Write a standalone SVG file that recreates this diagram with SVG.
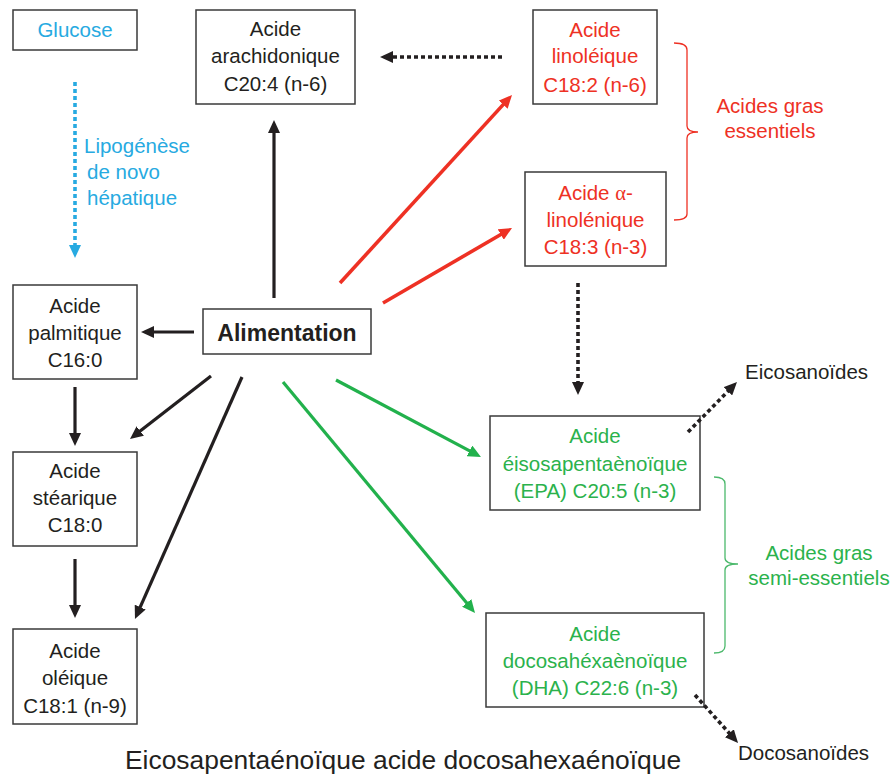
<svg xmlns="http://www.w3.org/2000/svg" width="895" height="778" viewBox="0 0 895 778">
<style>
  text { font-family: "Liberation Sans", Arial, sans-serif; font-size: 20.5px; fill: #231f20; }
  .c { text-anchor: middle; }
  .red { fill: #ee3124; }
  .green { fill: #2bb24c; }
  .blue { fill: #27aae1; }
  .box { fill: #ffffff; stroke: #3a3a3a; stroke-width: 1.5; }
  .bold { font-weight: bold; font-size: 23px; }
  .ln { fill: none; stroke-width: 3.2; stroke-linecap: butt; }
  .k { stroke: #231f20; }
  .r { stroke: #ee3124; stroke-width: 3.6; }
  .g { stroke: #22b14c; }
  .b { stroke: #27aae1; }
  .dot { stroke-width: 3.6; stroke-dasharray: 4 3; }
  .brk { fill: none; stroke-width: 1.3; }
  .greek { font-family: "Liberation Serif", "Times New Roman", serif; }
</style>
<defs>
  <marker id="ak" markerUnits="userSpaceOnUse" markerWidth="14" markerHeight="12" refX="5" refY="6" orient="auto">
    <path d="M0,0 L13,6 L0,12 z" fill="#231f20"/>
  </marker>
  <marker id="ar" markerUnits="userSpaceOnUse" markerWidth="14" markerHeight="12" refX="5" refY="6" orient="auto">
    <path d="M0,0 L13,6 L0,12 z" fill="#ee3124"/>
  </marker>
  <marker id="ag" markerUnits="userSpaceOnUse" markerWidth="14" markerHeight="12" refX="5" refY="6" orient="auto">
    <path d="M0,0 L13,6 L0,12 z" fill="#22b14c"/>
  </marker>
  <marker id="ab" markerUnits="userSpaceOnUse" markerWidth="14" markerHeight="12" refX="5" refY="6" orient="auto">
    <path d="M0,0 L13,6 L0,12 z" fill="#27aae1"/>
  </marker>
</defs>
<rect width="895" height="778" fill="#ffffff"/>

<g id="glucose">
  <rect class="box" x="13" y="10" width="124" height="40"/>
  <text class="c blue" x="75" y="37">Glucose</text>
</g>

<g id="lipogenese">
  <text class="blue" x="84" y="153">Lipogénèse</text>
  <text class="blue" x="87" y="179">de novo</text>
  <text class="blue" x="87" y="205">hépatique</text>
</g>

<g id="arachidonique">
  <rect class="box" x="196" y="10" width="159" height="94"/>
  <text class="c" x="275.5" y="36">Acide</text>
  <text class="c" x="275.5" y="63">arachidonique</text>
  <text class="c" x="275.5" y="91">C20:4 (n-6)</text>
</g>

<g id="linoleique">
  <rect class="box" x="533" y="10" width="124" height="94"/>
  <text class="c red" x="595" y="37">Acide</text>
  <text class="c red" x="595" y="63">linoléique</text>
  <text class="c red" x="595" y="92">C18:2 (n-6)</text>
</g>

<g id="alpha-linolenique">
  <rect class="box" x="525" y="172" width="141" height="94"/>
  <text class="c red" x="595.5" y="200">Acide <tspan class="greek">α</tspan>-</text>
  <text class="c red" x="595.5" y="227">linolénique</text>
  <text class="c red" x="595.5" y="254">C18:3 (n-3)</text>
</g>

<g id="essentiels">
  <path class="brk" stroke="#ee3124" d="M674,43 Q687,43 687,50 L687,126 Q687,132 698,132 Q687,132 687,138 L687,214 Q687,220 674,220"/>
  <text class="c red" x="770" y="113">Acides gras</text>
  <text class="c red" x="770" y="138">essentiels</text>
</g>

<g id="alimentation">
  <rect class="box" x="203" y="309" width="168" height="45"/>
  <text class="c bold" x="287" y="341">Alimentation</text>
</g>

<g id="palmitique">
  <rect class="box" x="13" y="285" width="124" height="94"/>
  <text class="c" x="75" y="313">Acide</text>
  <text class="c" x="75" y="340">palmitique</text>
  <text class="c" x="75" y="367">C16:0</text>
</g>

<g id="stearique">
  <rect class="box" x="13" y="452" width="124" height="94"/>
  <text class="c" x="75" y="478">Acide</text>
  <text class="c" x="75" y="505">stéarique</text>
  <text class="c" x="75" y="532">C18:0</text>
</g>

<g id="oleique">
  <rect class="box" x="13" y="629" width="124" height="95"/>
  <text class="c" x="75" y="658">Acide</text>
  <text class="c" x="75" y="685">oléique</text>
  <text class="c" x="75" y="713">C18:1 (n-9)</text>
</g>

<g id="epa">
  <rect class="box" x="490" y="416" width="210" height="94"/>
  <text class="c green" x="595" y="443">Acide</text>
  <text class="c green" x="595" y="471">éisosapentaènoïque</text>
  <text class="c green" x="595" y="498">(EPA) C20:5 (n-3)</text>
</g>

<g id="dha">
  <rect class="box" x="486" y="613" width="218" height="94"/>
  <text class="c green" x="595" y="641">Acide</text>
  <text class="c green" x="595" y="668">docosahéxaènoïque</text>
  <text class="c green" x="595" y="695">(DHA) C22:6 (n-3)</text>
</g>

<g id="semi-essentiels">
  <path class="brk" stroke="#4cb96c" d="M714,477 Q725,477 725,484 L725,558 Q725,564 738,564 Q725,564 725,570 L725,646 Q725,653 714,653"/>
  <text class="c green" x="819" y="560">Acides gras</text>
  <text class="c green" x="819" y="585">semi-essentiels</text>
</g>

<g id="eicosanoides">
  <text x="745" y="379">Eicosanoïdes</text>
</g>

<g id="docosanoides">
  <text x="738" y="760">Docosanoïdes</text>
</g>

<g id="caption">
  <text x="125" y="769" style="font-size:26.4px">Eicosapentaénoïque acide docosahexaénoïque</text>
</g>

<g id="connectors">
  <path class="ln k" d="M274,298 L274,128" marker-end="url(#ak)"/>
  <path class="ln k" d="M194,332 L149,332" marker-end="url(#ak)"/>
  <path class="ln k" d="M75,387 L75,438" marker-end="url(#ak)"/>
  <path class="ln k" d="M75,559 L75,610" marker-end="url(#ak)"/>
  <path class="ln k" d="M211,376 L136.3,434.1" marker-end="url(#ak)"/>
  <path class="ln k" d="M242,377 L138.2,611.7" marker-end="url(#ak)"/>
  <path class="ln r" d="M340,283 L506.6,100.9" marker-end="url(#ar)"/>
  <path class="ln r" d="M383,303 L505.1,232" marker-end="url(#ar)"/>
  <path class="ln g" d="M336,380 L473.9,453.2" marker-end="url(#ag)"/>
  <path class="ln g" d="M283,382 L469.9,606.8" marker-end="url(#ag)"/>
  <path class="ln k dot" d="M502,57 L388,57" marker-end="url(#ak)"/>
  <path class="ln k dot" d="M578,283 L578,387" marker-end="url(#ak)"/>
  <path class="ln k dot" d="M688,432 L731.4,387.7" marker-end="url(#ak)"/>
  <path class="ln k dot" d="M695,695 L732.7,737" marker-end="url(#ak)"/>
  <path class="ln b dot" d="M75,82 L75,250" marker-end="url(#ab)"/>
</g>
</svg>
